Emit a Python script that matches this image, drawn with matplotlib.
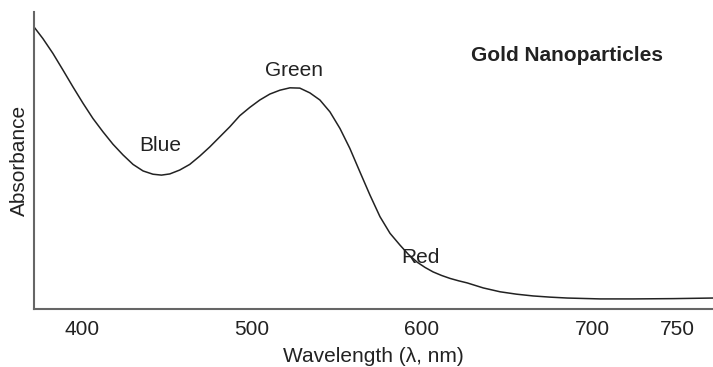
import matplotlib
matplotlib.use("Agg")
import matplotlib.pyplot as plt

plt.rcParams['font.family'] = ['Liberation Sans', 'DejaVu Sans']

wavelength = [372.4, 377.2, 383.1, 389.0, 394.9, 400.8, 406.6, 412.5, 418.4,
              424.3, 430.2, 436.1, 441.9, 446.9, 451.8, 457.6, 463.5, 469.4,
              475.3, 481.2, 487.1, 492.9, 498.8, 504.7, 510.6, 516.5, 522.4,
              528.2, 534.1, 540.0, 545.9, 551.8, 557.6, 563.5, 569.4, 575.3,
              581.2, 587.1, 592.0, 597.1, 601.8, 606.5, 611.5, 616.5, 621.5,
              626.5, 636.0, 645.9, 655.5, 665.3, 675.3, 685.3, 704.7, 724.1,
              747.6, 771.2]
absorbance = [0.947, 0.911, 0.861, 0.805, 0.748, 0.693, 0.642, 0.597, 0.555,
              0.519, 0.487, 0.465, 0.454, 0.451, 0.455, 0.468, 0.487, 0.515,
              0.546, 0.580, 0.614, 0.651, 0.679, 0.704, 0.724, 0.737, 0.745,
              0.744, 0.728, 0.704, 0.664, 0.608, 0.541, 0.462, 0.384, 0.311,
              0.255, 0.215, 0.184, 0.158, 0.140, 0.125, 0.113, 0.103, 0.095,
              0.088, 0.071, 0.058, 0.050, 0.044, 0.040, 0.037, 0.034, 0.034,
              0.035, 0.037]
tick_values = [400, 500, 600, 700, 750]
tick_labels = ["400", "500", "600", "700", "750"]
color_labels = ["Blue", "Green", "Red"]
color_label_pos = [(446, 0.552), (525, 0.805), (599, 0.172)]

fig = plt.figure(figsize=(7.13, 3.67), dpi=100)
ax = fig.add_axes([0.0477, 0.158, 0.9523, 0.809])
ax.plot(wavelength, absorbance, color='#222222', lw=1.1)
ax.set_xlim(372, 771)
ax.set_ylim(0, 1)
ax.set_xticks(tick_values)
ax.set_xticklabels(tick_labels)
ax.set_yticks([])
ax.tick_params(axis='x', length=0, pad=8, labelsize=15, colors='#222222')
for s in ['top', 'right']:
    ax.spines[s].set_visible(False)
for s in ['left', 'bottom']:
    ax.spines[s].set_color('#666666')
    ax.spines[s].set_linewidth(1.5)
ax.set_xlabel("Wavelength (λ, nm)", fontsize=15, color='#222222', labelpad=6)
ax.set_ylabel("Absorbance", fontsize=15, color='#222222', labelpad=4)
for lab, (x, y) in zip(color_labels, color_label_pos):
    ax.text(x, y, lab, fontsize=15, ha='center', va='center', color='#222222')
ax.text(685, 0.855, "Gold Nanoparticles", fontsize=15, fontweight='bold',
        ha='center', va='center', color='#222222')
fig.savefig("out.png", dpi=100)
